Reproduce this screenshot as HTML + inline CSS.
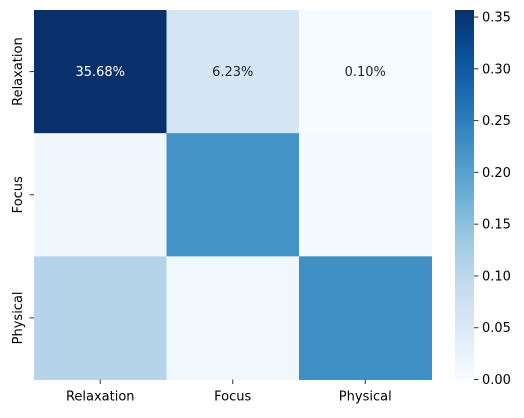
<!DOCTYPE html>
<html><head><meta charset="utf-8"><style>
body{margin:0;background:#fff;width:524px;height:413px;overflow:hidden}
text{font-family:"DejaVu Sans","Liberation Sans",sans-serif;font-size:13px}
</style></head><body>
<svg id="chart" width="524" height="413" xmlns="http://www.w3.org/2000/svg">
<defs><linearGradient id="blues" x1="0" y1="1" x2="0" y2="0">
<stop offset="0" stop-color="#f7fbff"/><stop offset="0.125" stop-color="#deebf7"/><stop offset="0.25" stop-color="#c6dbef"/><stop offset="0.375" stop-color="#9ecae1"/><stop offset="0.5" stop-color="#6baed6"/><stop offset="0.625" stop-color="#4292c6"/><stop offset="0.75" stop-color="#2171b5"/><stop offset="0.875" stop-color="#08519c"/><stop offset="1" stop-color="#08306b"/>
</linearGradient></defs>
<g id="cells"></g>
<rect x="455" y="10" width="19" height="369.5" fill="url(#blues)"/>
<g id="cbticks"></g>
</svg>
<script>
const rowLabels=["Relaxation","Focus","Physical"];
const colLabels=["Relaxation","Focus","Physical"];
const row0=[0.3568,0.0623,0.0010];
const row1=[0.015,0.221,0.004];
const row2=[0.108,0.012,0.226];
const annotations=["35.68%","6.23%","0.10%"];
const cbTickValues=[0,0.05,0.10,0.15,0.20,0.25,0.30,0.35];
const cbTickLabels=["0.00","0.05","0.10","0.15","0.20","0.25","0.30","0.35"];
const vmax=0.3568;
const values=[row0,row1,row2];
const stops=["#f7fbff","#deebf7","#c6dbef","#9ecae1","#6baed6","#4292c6","#2171b5","#08519c","#08306b"];
function hex(c){return [1,3,5].map(i=>parseInt(c.substr(i,2),16));}
function color(v){let t=Math.max(0,Math.min(1,v/vmax))*8;let i=Math.min(7,Math.floor(t));let f=t-i;
let a=hex(stops[i]),b=hex(stops[i+1]);return "rgb("+a.map((x,k)=>Math.round(x+(b[k]-x)*f)).join(",")+")";}
const L=34,T=10,W=397.5,H=369.5;
const cw=W/colLabels.length,ch=H/rowLabels.length;
const xs=j=>L+j*cw, ys=i=>T+i*ch;
const NS="http://www.w3.org/2000/svg";
const g=document.getElementById("cells"),svg=document.getElementById("chart");
function mk(tag,attrs,parent){const e=document.createElementNS(NS,tag);for(const k in attrs)e.setAttribute(k,attrs[k]);parent.appendChild(e);return e;}
values.forEach((row,i)=>row.forEach((v,j)=>{
 const r=mk("rect",{x:xs(j),y:ys(i),width:cw+0.5,height:ch+0.5,fill:color(v)},g);
 
 
}));
annotations.forEach((s,j)=>{
 const v=values[0][j];
 const t=mk("text",{x:xs(j)+cw/2,y:ys(0)+ch/2+4.5,"text-anchor":"middle",fill:v/vmax>0.5?"#fff":"#262626"},svg);
 t.textContent=s;
 
 
});
colLabels.forEach((s,j)=>{
 const cx=xs(j)+cw/2;
 mk("line",{x1:cx,x2:cx,y1:T+H,y2:T+H+4.5,stroke:"#333","stroke-width":1},svg);
 const t=mk("text",{x:cx,y:T+H+21,"text-anchor":"middle",fill:"#000"},svg);
 t.textContent=s;
 
 
});
rowLabels.forEach((s,i)=>{
 const cy=ys(i)+ch/2;
 mk("line",{x1:L-4.5,x2:L,y1:cy,y2:cy,stroke:"#333","stroke-width":1},svg);
 const t=mk("text",{x:0,y:0,"text-anchor":"middle",fill:"#000",transform:"translate(22,"+cy+") rotate(-90)"},svg);
 t.textContent=s;
 
 
});
const cbT=10,cbH=369.5,cbX=474;
const cby=v=>cbT+cbH-(v/vmax)*cbH;
const cg=document.getElementById("cbticks");
cbTickValues.forEach((v,k)=>{
 const y=cby(v);
 mk("line",{x1:cbX,x2:cbX+4.5,y1:y,y2:y,stroke:"#333","stroke-width":1},cg);
 const t=mk("text",{x:cbX+8,y:y+4.5,fill:"#000"},cg);
 t.textContent=cbTickLabels[k];
 
 
});
</script>
</body></html>
